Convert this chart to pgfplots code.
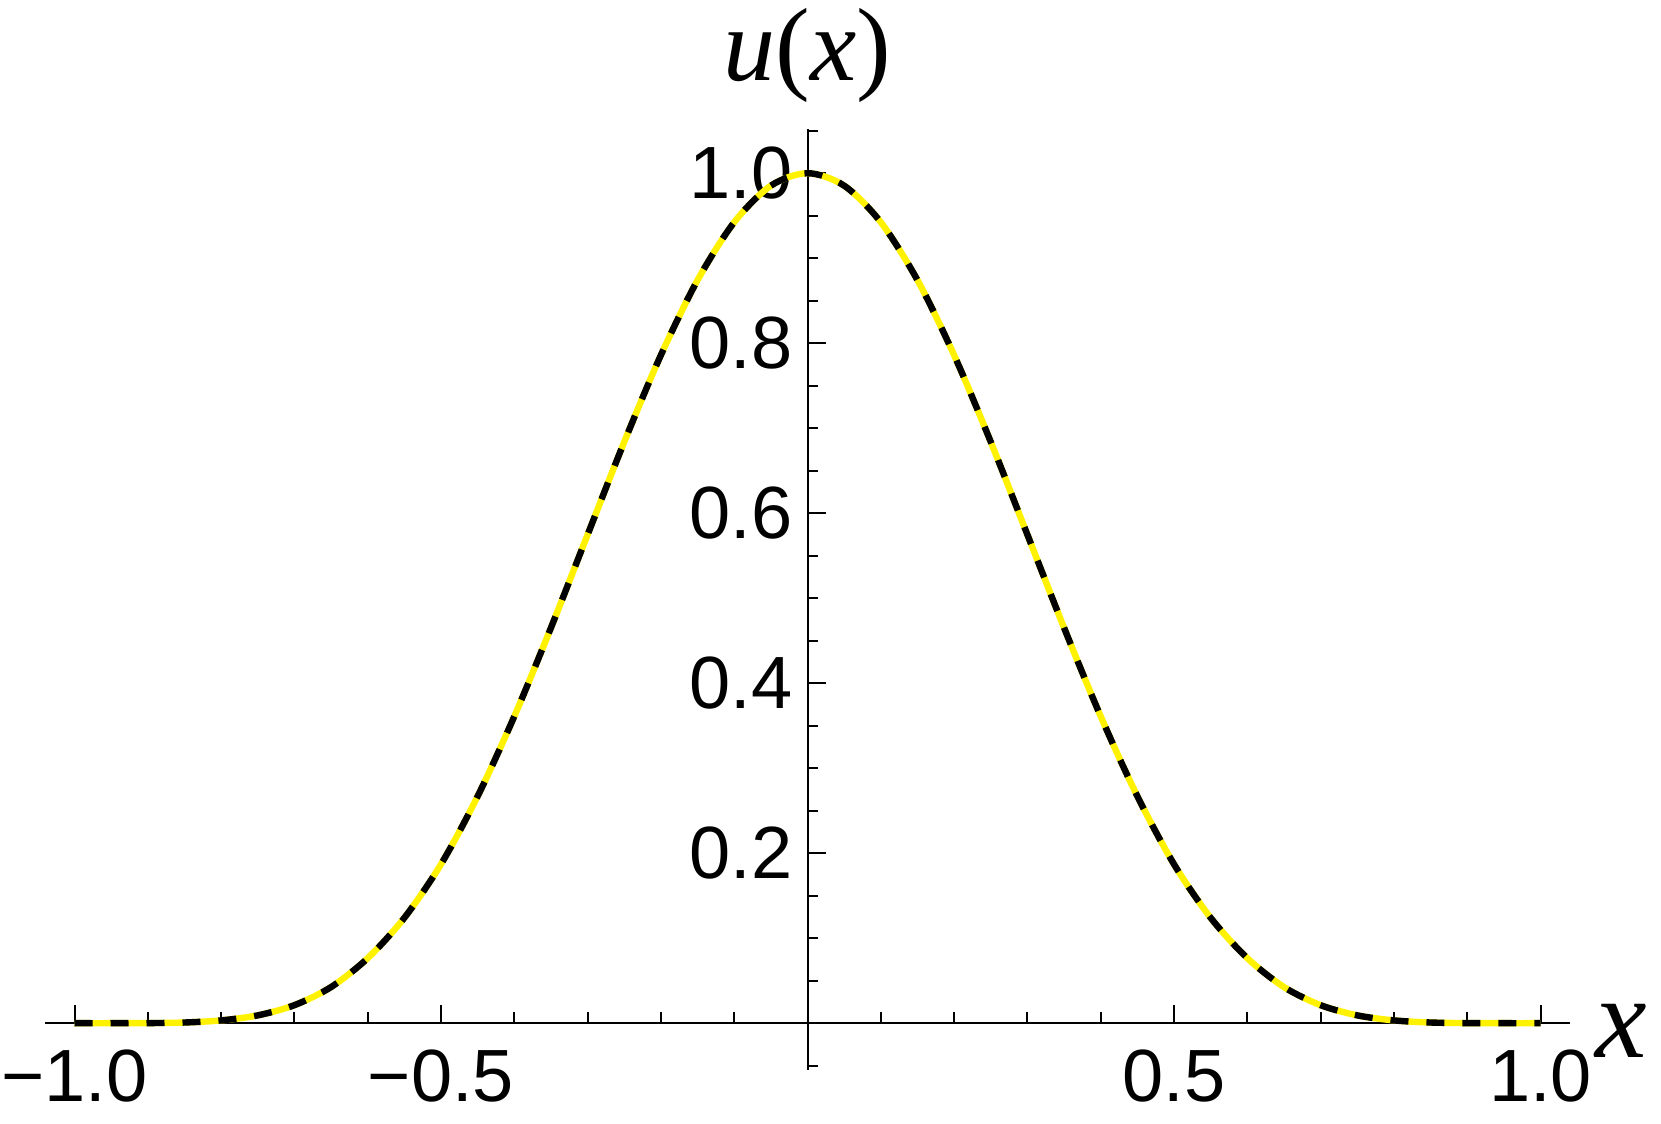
\documentclass[border=0pt]{standalone}
\usepackage{fontspec}
\setmainfont{Liberation Sans}
\newfontfamily\timesfont{Liberation Serif}
\usepackage{pgfplots}
\pgfplotsset{compat=1.18}

% u(x), symmetric about x=0
\pgfplotstableread{
x u
-1.00 0.0000
-0.95 0.0000
-0.90 0.0001
-0.85 0.0008
-0.80 0.0033
-0.75 0.0092
-0.70 0.0212
-0.65 0.0425
-0.60 0.0765
-0.55 0.1240
-0.50 0.1870
-0.45 0.2670
-0.40 0.3610
-0.35 0.4652
-0.30 0.5747
-0.25 0.6839
-0.20 0.7860
-0.15 0.8742
-0.10 0.9423
-0.05 0.9853
0.00 1.0000
0.05 0.9853
0.10 0.9423
0.15 0.8742
0.20 0.7860
0.25 0.6839
0.30 0.5747
0.35 0.4652
0.40 0.3610
0.45 0.2670
0.50 0.1870
0.55 0.1240
0.60 0.0765
0.65 0.0425
0.70 0.0212
0.75 0.0092
0.80 0.0033
0.85 0.0008
0.90 0.0001
0.95 0.0000
1.00 0.0000
}\udata

\begin{document}
\begin{tikzpicture}
\begin{axis}[
  x=183.25pt, y=212.5pt,
  xmin=-1.04, xmax=1.04, ymin=-0.055, ymax=1.052,
  axis lines=middle,
  axis line style={line width=0.5pt, -},
  every inner x axis line/.append style={-},
  every inner y axis line/.append style={-},
  tick align=inside,
  major tick length=4.5pt, minor tick length=2.7pt,
  tick style={line width=0.5pt, black},
  xtick={-1,-0.5,0.5,1},
  xticklabels={−1.0,−0.5,0.5,1.0},
  minor xtick={-0.9,-0.8,-0.7,-0.6,-0.4,-0.3,-0.2,-0.1,0,0.1,0.2,0.3,0.4,0.6,0.7,0.8,0.9},
  ytick={0.2,0.4,0.6,0.8,1.0},
  yticklabels={0.2,0.4,0.6,0.8,1.0},
  minor ytick={-0.05,0,0.05,0.1,0.15,0.25,0.3,0.35,0.45,0.5,0.55,0.65,0.7,0.75,0.85,0.9,0.95,1.05},
  ticklabel style={font=\fontsize{18.5}{22}\selectfont},
  xticklabel style={anchor=north, yshift=-3.2pt},
  yticklabel style={anchor=east, xshift=-0.3pt},
  xlabel={\fontsize{29}{34}\timesfont\itshape x},
  ylabel={\fontsize{26}{30}\timesfont{\itshape u\/}(\itshape x\/\upshape)},
  xlabel style={at={(axis cs:1.04,0)}, anchor=west, xshift=3pt, yshift=-2pt},
  ylabel style={at={(axis cs:0,1.052)}, anchor=base, inner sep=0pt, yshift=12pt, rotate=0},
]
\addplot[yellow, line width=1.6pt, smooth] table[x=x, y=u] {\udata};
\addplot[black, line width=1.6pt, dash pattern=on 4.5pt off 4.5pt, smooth] table[x=x, y=u] {\udata};
\coordinate (O) at (axis cs:0,0);
\end{axis}
\pgfresetboundingbox
\path[use as bounding box] (O) ++(-201.875pt,-25.2pt) rectangle ++(415.25pt,281pt);
\end{tikzpicture}
\end{document}
